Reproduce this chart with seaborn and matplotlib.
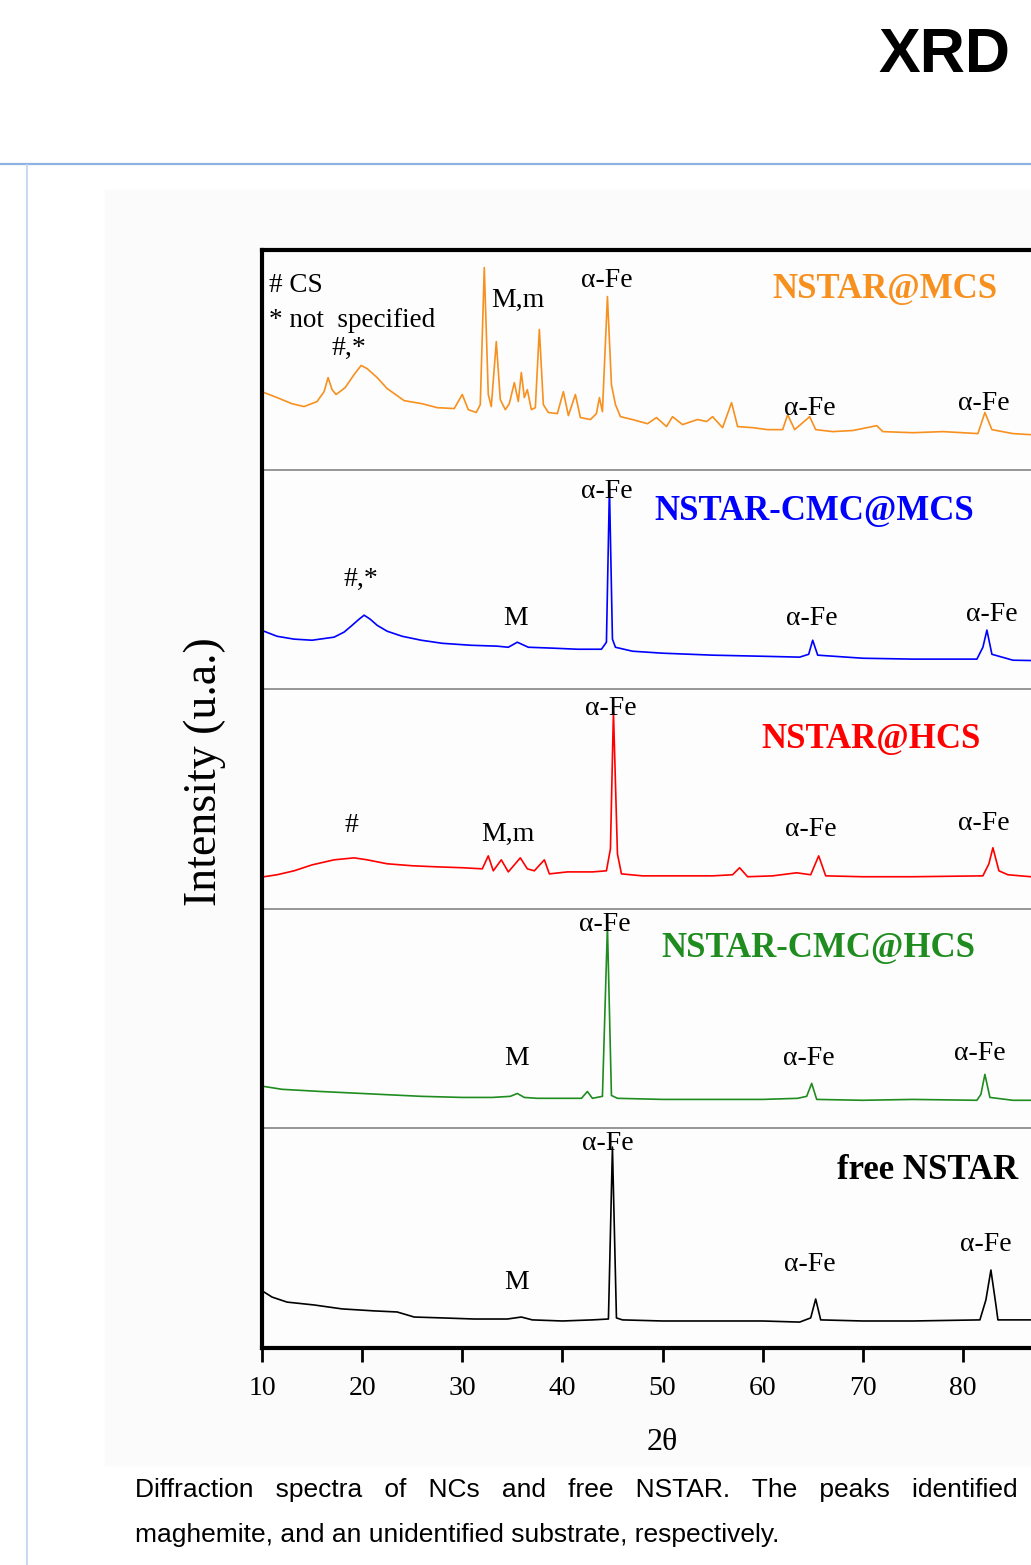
import numpy as np
import matplotlib.pyplot as plt
import seaborn as sns
from matplotlib import font_manager
from matplotlib.lines import Line2D
from matplotlib.patches import Rectangle

# values: 2-theta (deg) and intensity inside each panel (0-100)
orange_2theta = [10.2, 11.5, 13.0, 14.2, 15.5, 16.2, 16.6, 17.0, 17.4, 18.3, 19.2, 19.9, 20.5, 21.5,
                 22.5, 24.2, 26.0, 27.5, 29.2, 30.0, 30.6, 31.4, 31.8, 32.2, 32.6, 32.9, 33.4, 33.8,
                 34.3, 34.7, 35.2, 35.6, 35.9, 36.2, 36.5, 36.9, 37.3, 37.7, 38.1, 38.6, 39.5, 40.1,
                 40.6, 41.3, 41.8, 42.8, 43.4, 43.7, 44.0, 44.5, 44.9, 45.3, 45.8, 47.0, 48.5, 49.4,
                 50.4, 51.0, 52.0, 53.5, 54.4, 55.0, 56.0, 56.9, 57.5, 59.0, 60.5, 62.0, 62.5, 63.2,
                 64.7, 65.3, 67.0, 69.0, 71.4, 72.0, 75.0, 78.0, 81.5, 82.2, 82.9, 85.0, 86.8, 90.0]
orange_int = [35.1, 32.8, 30.0, 28.7, 31.0, 35.5, 41.9, 36.4, 34.2, 37.3, 43.3, 47.4, 46.0, 41.9,
              36.9, 31.4, 30.0, 28.2, 27.8, 34.2, 27.3, 26.0, 29.6, 92.0, 34.2, 28.7, 58.3, 31.9,
              27.3, 30.0, 39.6, 31.0, 44.2, 32.8, 36.4, 27.3, 28.2, 63.8, 29.6, 26.0, 25.5, 35.5,
              24.6, 34.2, 23.7, 22.8, 25.5, 32.8, 26.4, 78.8, 38.7, 29.6, 24.1, 22.8, 20.9, 23.7,
              19.6, 24.1, 20.5, 22.8, 21.9, 24.1, 19.1, 30.5, 19.6, 19.1, 18.2, 18.2, 25.0, 18.2,
              24.1, 18.2, 17.3, 17.8, 20.0, 17.3, 16.8, 17.3, 16.4, 26.0, 18.2, 16.4, 15.9, 15.9]

blue_2theta = [10.2, 11.5, 13.2, 15.0, 17.2, 18.2, 18.9, 19.7, 20.2, 20.8, 21.5, 22.5, 24.0, 25.9,
               28.0, 30.9, 33.5, 34.6, 35.5, 36.6, 39.0, 41.5, 43.9, 44.4, 44.7, 45.0, 45.3, 47.0,
               50.0, 55.0, 60.0, 63.7, 64.6, 65.0, 65.5, 70.0, 75.0, 81.4, 82.0, 82.4, 82.9, 85.0, 90.0]
blue_int = [26.4, 24.1, 22.8, 22.3, 23.7, 26.0, 28.7, 31.9, 33.7, 31.9, 29.1, 26.4, 24.1, 22.3,
            20.9, 20.0, 19.6, 19.1, 21.4, 19.1, 18.7, 18.2, 18.2, 21.4, 92.0, 22.8, 19.1, 17.3,
            16.4, 15.5, 15.0, 14.6, 15.9, 22.3, 15.5, 14.1, 13.7, 13.7, 19.1, 26.9, 15.9, 13.2, 12.8]

red_2theta = [10.2, 11.5, 13.2, 15.0, 17.2, 19.2, 20.5, 22.5, 25.0, 27.5, 30.0, 32.0, 32.6, 33.1,
              33.9, 34.6, 35.8, 36.5, 37.2, 38.2, 38.7, 40.5, 43.0, 44.4, 44.8, 45.1, 45.5, 45.9,
              48.0, 52.0, 55.0, 57.0, 57.7, 58.5, 61.0, 63.4, 64.8, 65.6, 66.3, 70.0, 75.0, 82.0,
              82.6, 83.0, 83.6, 84.5, 86.8, 90.0]
red_int = [14.6, 15.5, 17.3, 20.0, 22.3, 23.2, 22.3, 20.5, 19.6, 19.1, 18.7, 18.2, 24.1, 17.3,
           22.3, 16.8, 23.2, 18.2, 17.3, 22.3, 15.9, 16.8, 16.8, 17.3, 27.3, 90.0, 25.0, 15.9,
           15.0, 15.0, 15.0, 15.5, 18.7, 14.6, 15.0, 16.4, 15.5, 24.1, 15.0, 14.6, 14.6, 15.0,
           20.5, 27.8, 17.3, 15.5, 14.6, 14.6]

green_2theta = [10.2, 12.0, 15.9, 20.0, 25.9, 30.0, 33.0, 34.8, 35.5, 36.2, 37.5, 40.0, 41.9, 42.5,
                43.0, 44.0, 44.5, 44.9, 45.5, 50.0, 55.0, 60.0, 63.5, 64.4, 64.9, 65.4, 70.0, 75.0,
                81.4, 81.8, 82.2, 82.7, 85.0, 90.0]
green_int = [19.1, 17.8, 16.8, 15.9, 14.6, 14.1, 14.1, 14.6, 15.9, 14.1, 13.7, 13.7, 13.7, 16.8,
             13.7, 14.6, 92.0, 15.0, 13.7, 13.2, 13.2, 13.2, 13.7, 14.6, 20.5, 13.2, 12.8, 13.2,
             12.8, 15.5, 24.6, 14.1, 12.8, 12.8]

black_2theta = [10.2, 11.0, 12.5, 15.2, 18.0, 21.2, 23.5, 25.2, 28.0, 31.2, 34.5, 35.9, 37.0, 40.0,
                43.0, 44.6, 45.0, 45.4, 46.0, 50.0, 55.0, 60.0, 63.7, 64.8, 65.3, 65.8, 70.0, 75.0,
                81.7, 82.3, 82.8, 83.3, 83.5, 86.7, 90.0]
black_int = [25.5, 23.2, 20.9, 19.6, 17.8, 16.9, 16.4, 14.1, 13.7, 13.2, 13.2, 14.1, 12.8, 12.3,
             12.8, 13.2, 91.5, 13.7, 12.8, 12.3, 12.3, 12.3, 11.8, 13.7, 22.3, 12.8, 12.3, 12.3,
             12.8, 21.9, 35.5, 19.6, 12.8, 12.8, 12.8]

sample_names = ["NSTAR@MCS", "NSTAR-CMC@MCS", "NSTAR@HCS", "NSTAR-CMC@HCS", "free NSTAR"]
sample_colors = ["#f7901e", "#0000ff", "#ff0000", "#1f8c1f", "#000000"]
x_ticks = [10, 20, 30, 40, 50, 60, 70, 80]

traces = [
    (orange_2theta, orange_int),
    (blue_2theta, blue_int),
    (red_2theta, red_int),
    (green_2theta, green_int),
    (black_2theta, black_int),
]

# peak labels: (2theta, height in whole-axes units, text)
peak_labels = [
    (44.4, 486, "α-Fe"), (35.6, 477, "M,m"), (18.7, 455, "#,*"), (64.7, 428, "α-Fe"), (82.1, 430, "α-Fe"),
    (44.4, 390, "α-Fe"), (19.9, 350, "#,*"), (35.3, 332, "M"), (64.9, 332, "α-Fe"), (82.9, 334, "α-Fe"),
    (44.8, 291, "α-Fe"), (18.9, 238, "#"), (34.6, 234, "M,m"), (64.8, 236, "α-Fe"), (82.1, 239, "α-Fe"),
    (44.2, 193, "α-Fe"), (35.4, 132, "M"), (64.6, 132, "α-Fe"), (81.7, 134, "α-Fe"),
    (44.5, 93, "α-Fe"), (35.4, 30, "M"), (64.7, 38, "α-Fe"), (82.3, 47, "α-Fe"),
]
name_pos = [(72.2, 482), (65.2, 381), (70.8, 277), (65.6, 182), (76.5, 81)]

sns.set_style("white")
serif = "Liberation Serif"
installed = {f.name for f in font_manager.fontManager.ttflist}
narrow = "Liberation Sans Narrow" if "Liberation Sans Narrow" in installed else "Liberation Sans"
plt.rcParams["font.family"] = [serif, "DejaVu Serif"]
plt.rcParams["text.color"] = "black"
plt.rcParams["xtick.color"] = "black"
plt.rcParams["axes.labelcolor"] = "black"

W, H = 1031, 1565
fig = plt.figure(figsize=(W / 100, H / 100), dpi=100)
fig.patch.set_facecolor("white")

# page furniture around the figure image
fig.add_artist(Rectangle((105 / W, 1 - 1465 / H), (W - 105) / W, (1465 - 190) / H,
                         transform=fig.transFigure, color="#fbfbfb", zorder=0))
fig.add_artist(Line2D([0, 1], [1 - 164 / H] * 2, transform=fig.transFigure, color="#8db3e2", lw=1.6))
fig.add_artist(Line2D([27 / W] * 2, [0, 1 - 165 / H], transform=fig.transFigure, color="#c6d9f1", lw=1.4))

ax = fig.add_axes([262 / W, (H - 1348) / H, 801 / W, 1098 / H])
ax.set_facecolor("#fdfdfd")

n = len(traces)
for i, ((xs, ys), col) in enumerate(zip(traces, sample_colors)):
    offset = (n - 1 - i) * 100
    sns.lineplot(x=xs, y=np.array(ys) + offset, color=col, lw=1.2, ax=ax, legend=False)

for k in range(1, n):
    ax.axhline(k * 100, color="#7a7a7a", lw=1.1, zorder=1)

for x, y, t in peak_labels:
    ax.text(x, y, t, ha="center", va="center", fontsize=20, color="black")
ax.text(10.7, 484, "# CS", ha="left", va="center", fontsize=19.5)
ax.text(10.7, 468, "* not  specified", ha="left", va="center", fontsize=19.5)

for (x, y), name, col in zip(name_pos, sample_names, sample_colors):
    ax.text(x, y, name, ha="center", va="center", fontsize=25, fontweight="bold", color=col)

ax.set_xlim(10, 90)
ax.set_ylim(0, 500)
ax.set_xticks(x_ticks)
ax.set_xticklabels([str(v) for v in x_ticks], fontsize=20)
ax.set_yticks([])
ax.tick_params(axis="x", direction="out", length=10, width=2, pad=10, bottom=True)
for s in ax.spines.values():
    s.set_linewidth(3)
    s.set_color("black")

fig.text(205 / W, 1 - 772 / H, "Intensity (u.a.)", rotation=90, ha="center", va="center", fontsize=33)
fig.text(662 / W, 1 - 1443 / H, "2θ", ha="center", va="center", fontsize=23)

fig.text(944 / W, 1 - 56 / H, "XRD", ha="center", va="center", fontsize=45, fontweight="bold",
         family=[narrow, "DejaVu Sans"])
fig.text(135 / W, 1 - 1490 / H,
         "Diffraction   spectra   of   NCs   and   free   NSTAR.   The   peaks   identified",
         ha="left", va="center", fontsize=19, family=[narrow, "DejaVu Sans"])
fig.text(135 / W, 1 - 1535 / H, "maghemite, and an unidentified substrate, respectively.",
         ha="left", va="center", fontsize=19, family=[narrow, "DejaVu Sans"])

fig.savefig("out.png", dpi=100)
